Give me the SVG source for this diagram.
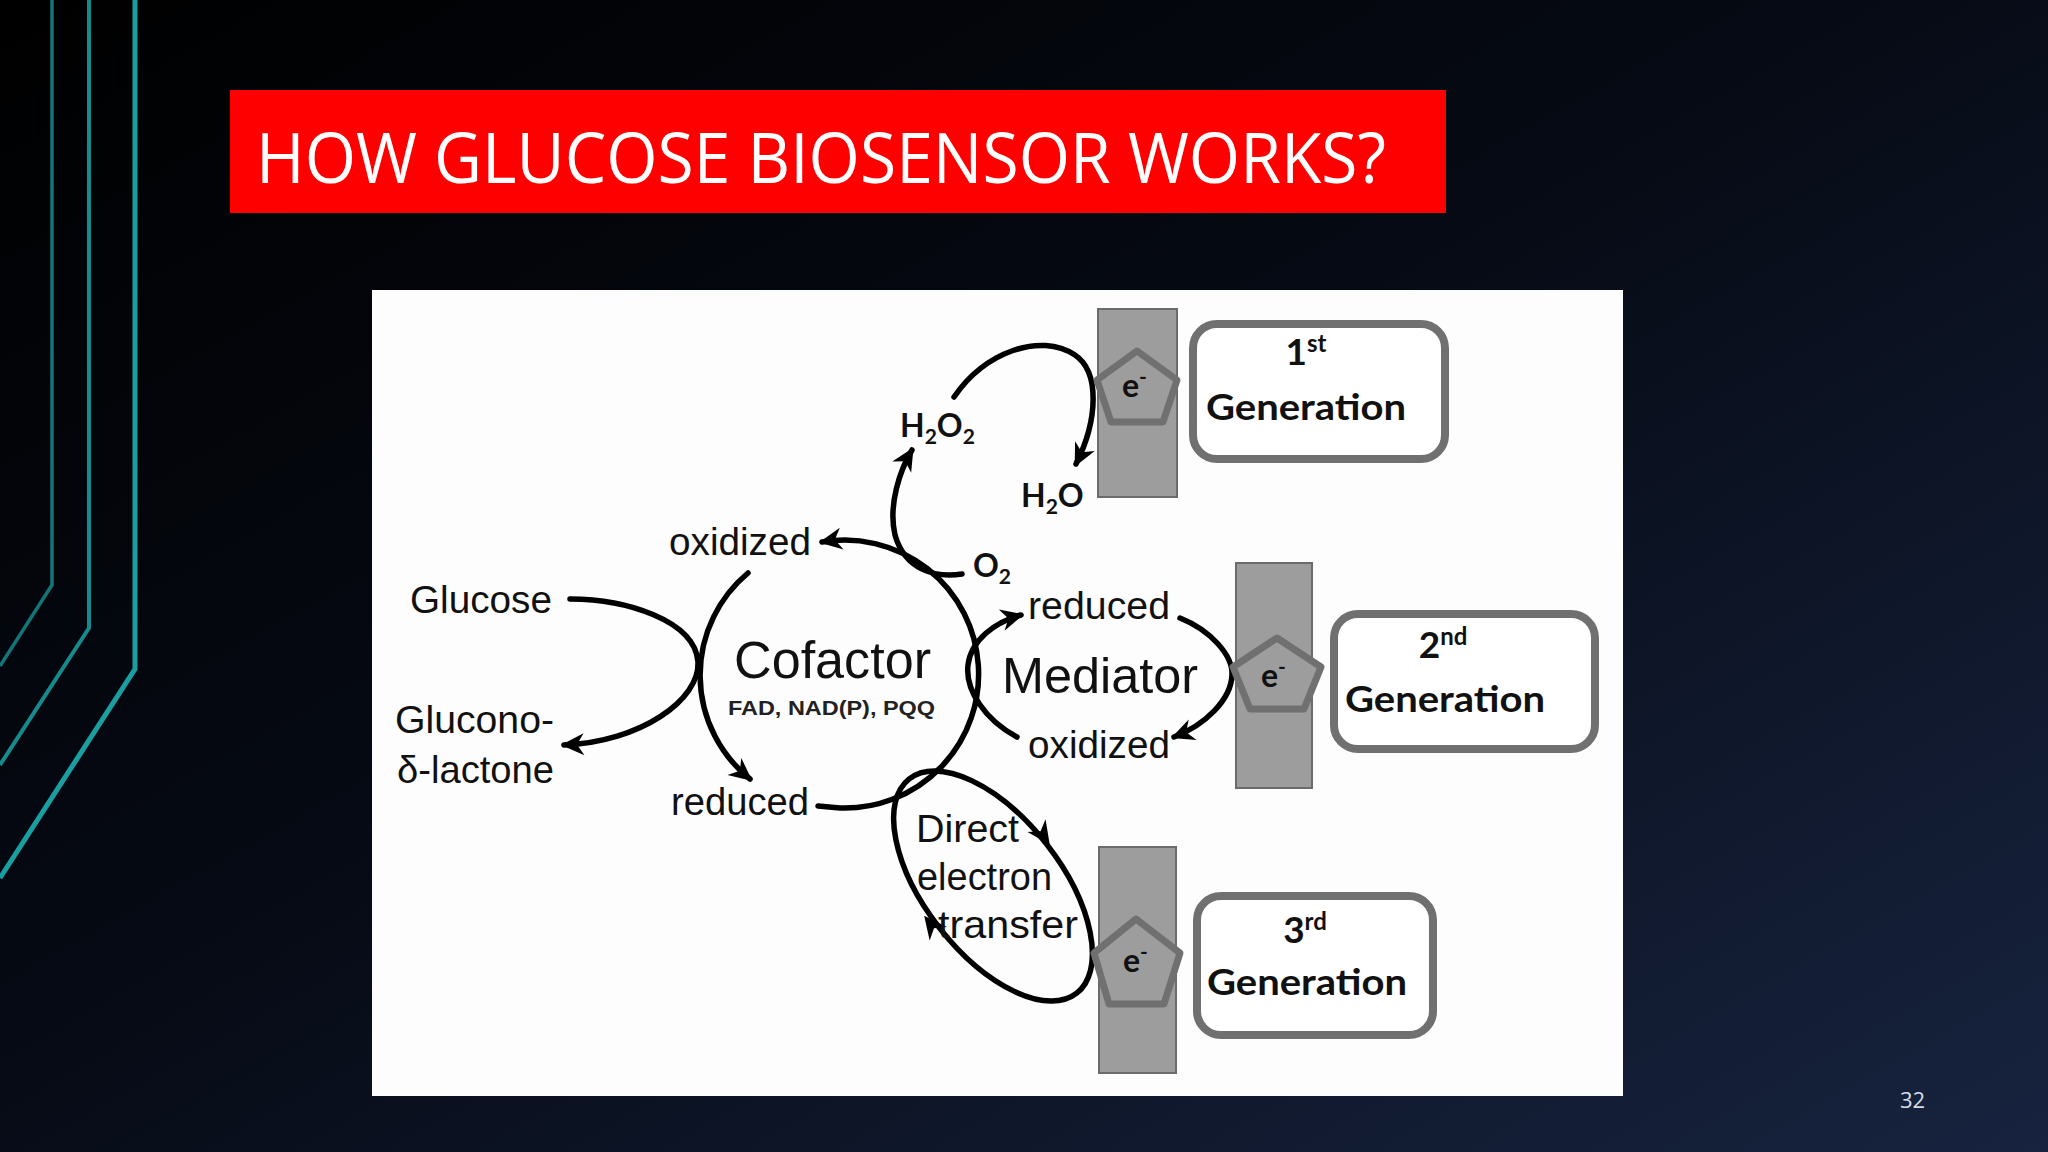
<svg xmlns="http://www.w3.org/2000/svg" width="2048" height="1152" viewBox="0 0 2048 1152">
<defs>
  <linearGradient id="bg" x1="0" y1="0" x2="1" y2="1">
    <stop offset="0" stop-color="#000000"/>
    <stop offset="0.45" stop-color="#060a14"/>
    <stop offset="1" stop-color="#17233f"/>
  </linearGradient>
  <marker id="ah" viewBox="-24 -12 28 24" refX="0" refY="0" markerWidth="28" markerHeight="24" orient="auto" markerUnits="userSpaceOnUse">
    <path d="M3,0 L-20,-11 L-13,0 L-20,11 Z" fill="#000"/>
  </marker>
  <style>
    .lbl{font-family:"Liberation Sans",Arial,sans-serif;font-size:39px;fill:#111}
    .gen{font-family:Lato,"Open Sans",sans-serif;font-weight:700;font-size:37px;fill:#111}
    .chem{font-family:Lato,"Open Sans",sans-serif;font-weight:700;font-size:32px;fill:#111}
    .sub{font-size:21px}
    .elec{fill:#9d9d9d;stroke:#6b6b6b;stroke-width:2}
    .pent{fill:#9d9d9d;stroke:#707070;stroke-width:7;stroke-linejoin:round}
    .box{fill:#ffffff;stroke:#707070;stroke-width:8}
    .ln{fill:none;stroke:#000;stroke-width:5.5;stroke-linecap:round}
    .teal{fill:none;stroke-linejoin:miter}
  </style>
</defs>

<rect x="0" y="0" width="2048" height="1152" fill="url(#bg)"/>

<g id="decor">
  <path class="teal" d="M52,0 L52,585 L0,666" stroke="#127678" stroke-width="3.5"/>
  <path class="teal" d="M89,0 L89,628 L0,765" stroke="#168b8d" stroke-width="4"/>
  <path class="teal" d="M135,0 L135,669 L0,878" stroke="#1a9fa1" stroke-width="5"/>
</g>

<g id="title">
  <rect x="230" y="90" width="1216" height="123" fill="#fe0000"/>
  <text x="256" y="183" font-family="'Open Sans','Liberation Sans',sans-serif" font-size="70" fill="#ffffff" textLength="1130" lengthAdjust="spacingAndGlyphs">HOW GLUCOSE BIOSENSOR WORKS?</text>
</g>

<rect id="panel" x="372" y="290" width="1251" height="806" fill="#fdfdfd"/>

<g id="connectors">
  <path class="ln" d="M570,599 C625,599 695,620 698,662 C700,700 640,742 564,745" marker-end="url(#ah)"/>
  <path class="ln" d="M748,573 A133,133 0 0 0 750,779" marker-end="url(#ah)"/>
  <path class="ln" d="M818,806 L840,808 A134,134 0 1 0 822,542" marker-end="url(#ah)"/>
  <path class="ln" d="M962,574 C935,578 905,570 895,535 C888,505 900,470 912,450" marker-end="url(#ah)"/>
  <path class="ln" d="M954,397 C985,352 1040,332 1075,355 C1100,372 1098,420 1076,464" marker-end="url(#ah)"/>
  <path class="ln" d="M1017,737 C985,720 965,690 968,665 C971,640 995,622 1021,615" marker-end="url(#ah)"/>
  <path class="ln" d="M1180,618 C1210,630 1233,655 1232,675 C1231,700 1205,725 1174,737" marker-end="url(#ah)"/>
  <ellipse class="ln" cx="993" cy="886" rx="136" ry="68" transform="rotate(52 993 886)"/>
  <path d="M3,0 L-20,-11 L-13,0 L-20,11 Z" fill="#000" transform="translate(1048,842) rotate(55)"/>
  <path d="M3,0 L-20,-11 L-13,0 L-20,11 Z" fill="#000" transform="translate(926,918) rotate(232)"/>
</g>

<g id="cofactor">
  <text class="lbl" x="734" y="678" style="font-size:51px" textLength="197" lengthAdjust="spacingAndGlyphs">Cofactor</text>
  <text class="lbl" x="728" y="715" style="font-size:21px;fill:#222;font-weight:700" textLength="207" lengthAdjust="spacingAndGlyphs">FAD, NAD(P), PQQ</text>
  <text class="lbl" x="669" y="555" textLength="142" lengthAdjust="spacingAndGlyphs">oxidized</text>
  <text class="lbl" x="671" y="815" textLength="138" lengthAdjust="spacingAndGlyphs">reduced</text>
</g>

<g id="glucose">
  <text class="lbl" x="410" y="613" textLength="142" lengthAdjust="spacingAndGlyphs">Glucose</text>
</g>
<g id="gluconolactone">
  <text class="lbl" x="395" y="733" textLength="159" lengthAdjust="spacingAndGlyphs">Glucono-</text>
  <text class="lbl" x="397" y="783" textLength="157" lengthAdjust="spacingAndGlyphs">δ-lactone</text>
</g>

<g id="h2o2">
  <text class="chem" x="900" y="437">H<tspan class="sub" dy="7">2</tspan><tspan dy="-7">O</tspan><tspan class="sub" dy="7">2</tspan></text>
</g>
<g id="h2o">
  <text class="chem" x="1021" y="507">H<tspan class="sub" dy="7">2</tspan><tspan dy="-7">O</tspan></text>
</g>
<g id="o2">
  <text class="chem" x="973" y="577">O<tspan class="sub" dy="7">2</tspan></text>
</g>

<g id="mediator">
  <text class="lbl" x="1028" y="619" textLength="142" lengthAdjust="spacingAndGlyphs">reduced</text>
  <text class="lbl" x="1002" y="693" style="font-size:50px" textLength="196" lengthAdjust="spacingAndGlyphs">Mediator</text>
  <text class="lbl" x="1028" y="758" textLength="142" lengthAdjust="spacingAndGlyphs">oxidized</text>
</g>

<g id="det">
  <text class="lbl" x="916" y="842" textLength="103" lengthAdjust="spacingAndGlyphs">Direct</text>
  <text class="lbl" x="917" y="890" textLength="135" lengthAdjust="spacingAndGlyphs">electron</text>
  <text class="lbl" x="938" y="938" textLength="140" lengthAdjust="spacingAndGlyphs">transfer</text>
</g>

<g id="electrode1">
  <rect class="elec" x="1098" y="309" width="79" height="188"/>
  <polygon class="pent" points="1137,351 1177,380 1163,422 1111,422 1097,380"/>
  <text class="chem" x="1122" y="397">e<tspan class="sub" dy="-13">-</tspan></text>
</g>
<g id="electrode2">
  <rect class="elec" x="1236" y="563" width="76" height="225"/>
  <polygon class="pent" points="1277,638 1321,667 1304,709 1250,709 1233,667"/>
  <text class="chem" x="1261" y="687">e<tspan class="sub" dy="-13">-</tspan></text>
</g>
<g id="electrode3">
  <rect class="elec" x="1099" y="847" width="77" height="226"/>
  <polygon class="pent" points="1136,919 1180,953 1164,1004 1109,1004 1094,953"/>
  <text class="chem" x="1123" y="972">e<tspan class="sub" dy="-13">-</tspan></text>
</g>

<g id="gen1">
  <rect class="box" x="1193" y="324" width="252" height="135" rx="24"/>
  <text class="gen" x="1306" y="365" text-anchor="middle">1<tspan style="font-size:24px" dy="-13">st</tspan></text>
  <text class="gen" x="1306" y="420" text-anchor="middle" textLength="200" lengthAdjust="spacingAndGlyphs">Generation</text>
</g>
<g id="gen2">
  <rect class="box" x="1334" y="614" width="261" height="135" rx="24"/>
  <text class="gen" x="1443" y="658" text-anchor="middle">2<tspan style="font-size:24px" dy="-13">nd</tspan></text>
  <text class="gen" x="1445" y="712" text-anchor="middle" textLength="200" lengthAdjust="spacingAndGlyphs">Generation</text>
</g>
<g id="gen3">
  <rect class="box" x="1197" y="896" width="236" height="139" rx="24"/>
  <text class="gen" x="1305" y="943" text-anchor="middle">3<tspan style="font-size:24px" dy="-13">rd</tspan></text>
  <text class="gen" x="1307" y="995" text-anchor="middle" textLength="200" lengthAdjust="spacingAndGlyphs">Generation</text>
</g>

<text id="pagenum" x="1900" y="1108" font-family="'Open Sans','Liberation Sans',sans-serif" font-size="22" fill="#d6dce8">32</text>
</svg>
